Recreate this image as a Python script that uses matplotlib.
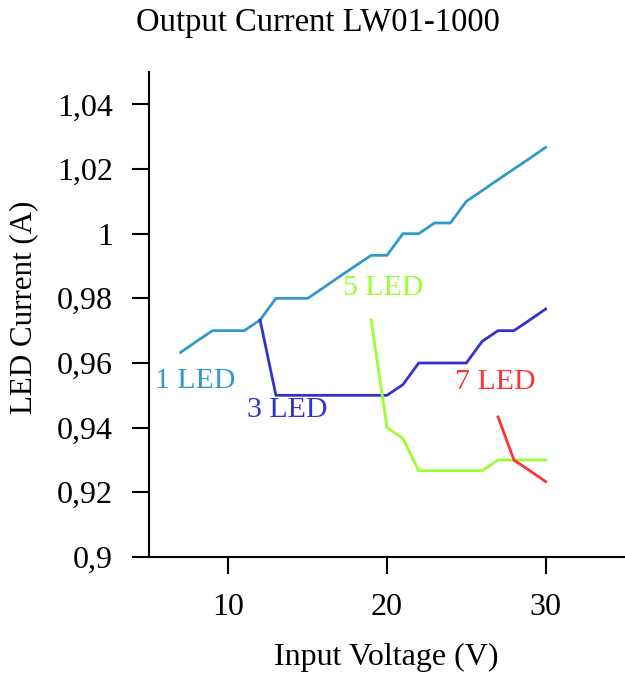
import numpy as np
import matplotlib
matplotlib.use('Agg')
import matplotlib.pyplot as plt

# LED current vs input voltage
v1 = list(range(7, 31))
i1 = [0.9633, 0.9667, 0.97, 0.97, 0.97, 0.9733, 0.98, 0.98, 0.98, 0.9833,
      0.9867, 0.99, 0.9933, 0.9933, 1.0, 1.0, 1.0033, 1.0033, 1.01, 1.0133,
      1.0167, 1.02, 1.0233, 1.0267]
v3 = list(range(12, 31))
i3 = [0.9733, 0.95, 0.95, 0.95, 0.95, 0.95, 0.95, 0.95, 0.95, 0.9533,
      0.96, 0.96, 0.96, 0.96, 0.9667, 0.97, 0.97, 0.9733, 0.9767]
v5 = list(range(19, 31))
i5 = [0.9733, 0.94, 0.9367, 0.9267, 0.9267, 0.9267, 0.9267, 0.9267,
      0.93, 0.93, 0.93, 0.93]
v7 = [27, 28, 29, 30]
i7 = [0.9433, 0.93, 0.9267, 0.9233]

names = ['1 LED', '3 LED', '5 LED', '7 LED']
colors = ['#3399cc', '#3333cc', '#99ff33', '#ff3333']
label_pos = [(5.4, 0.9543), (11.2, 0.9454), (17.2, 0.9833), (24.3, 0.954)]

plt.rcParams['font.family'] = ['Liberation Serif', 'DejaVu Serif']

fig = plt.figure(figsize=(6.25, 6.78), dpi=100)
ax = fig.add_axes([0.2384, 0.1785, 0.7616, 0.7153])

for (v, i), c in zip([(v1, i1), (v3, i3), (v5, i5), (v7, i7)], colors):
    ax.plot(v, i, color=c, lw=2)
for n, c, (x, y) in zip(names, colors, label_pos):
    ax.text(x, y, n, color=c, fontsize=21.5, ha='left', va='center')

ax.set_xlim(5, 35)
ax.set_ylim(0.9, 1.05)
ax.set_xticks([10, 20, 30])
yt = [0.9, 0.92, 0.94, 0.96, 0.98, 1.0, 1.02, 1.04]
ax.set_yticks(yt)
ax.set_yticklabels(['0,9', '0,92', '0,94', '0,96', '0,98', '1', '1,02', '1,04'])
ax.tick_params(labelsize=23, length=12, width=1.5)
ax.tick_params(axis='y', pad=14)
ax.tick_params(axis='x', pad=14)
for s in ['top', 'right']:
    ax.spines[s].set_visible(False)
for s in ['left', 'bottom']:
    ax.spines[s].set_linewidth(1.5)

fig.text(386.5 / 625, 1 - 665 / 678, 'Input Voltage (V)', fontsize=23,
         ha='center', va='baseline')
fig.text(24 / 625, 1 - 307 / 678, 'LED Current (A)', fontsize=22.3,
         ha='center', va='center', rotation=90)
fig.text(317.5 / 625, 1 - 31 / 678, 'Output Current LW01-1000',
         fontsize=23.5, ha='center', va='baseline')

plt.savefig('out.png', dpi=100)
